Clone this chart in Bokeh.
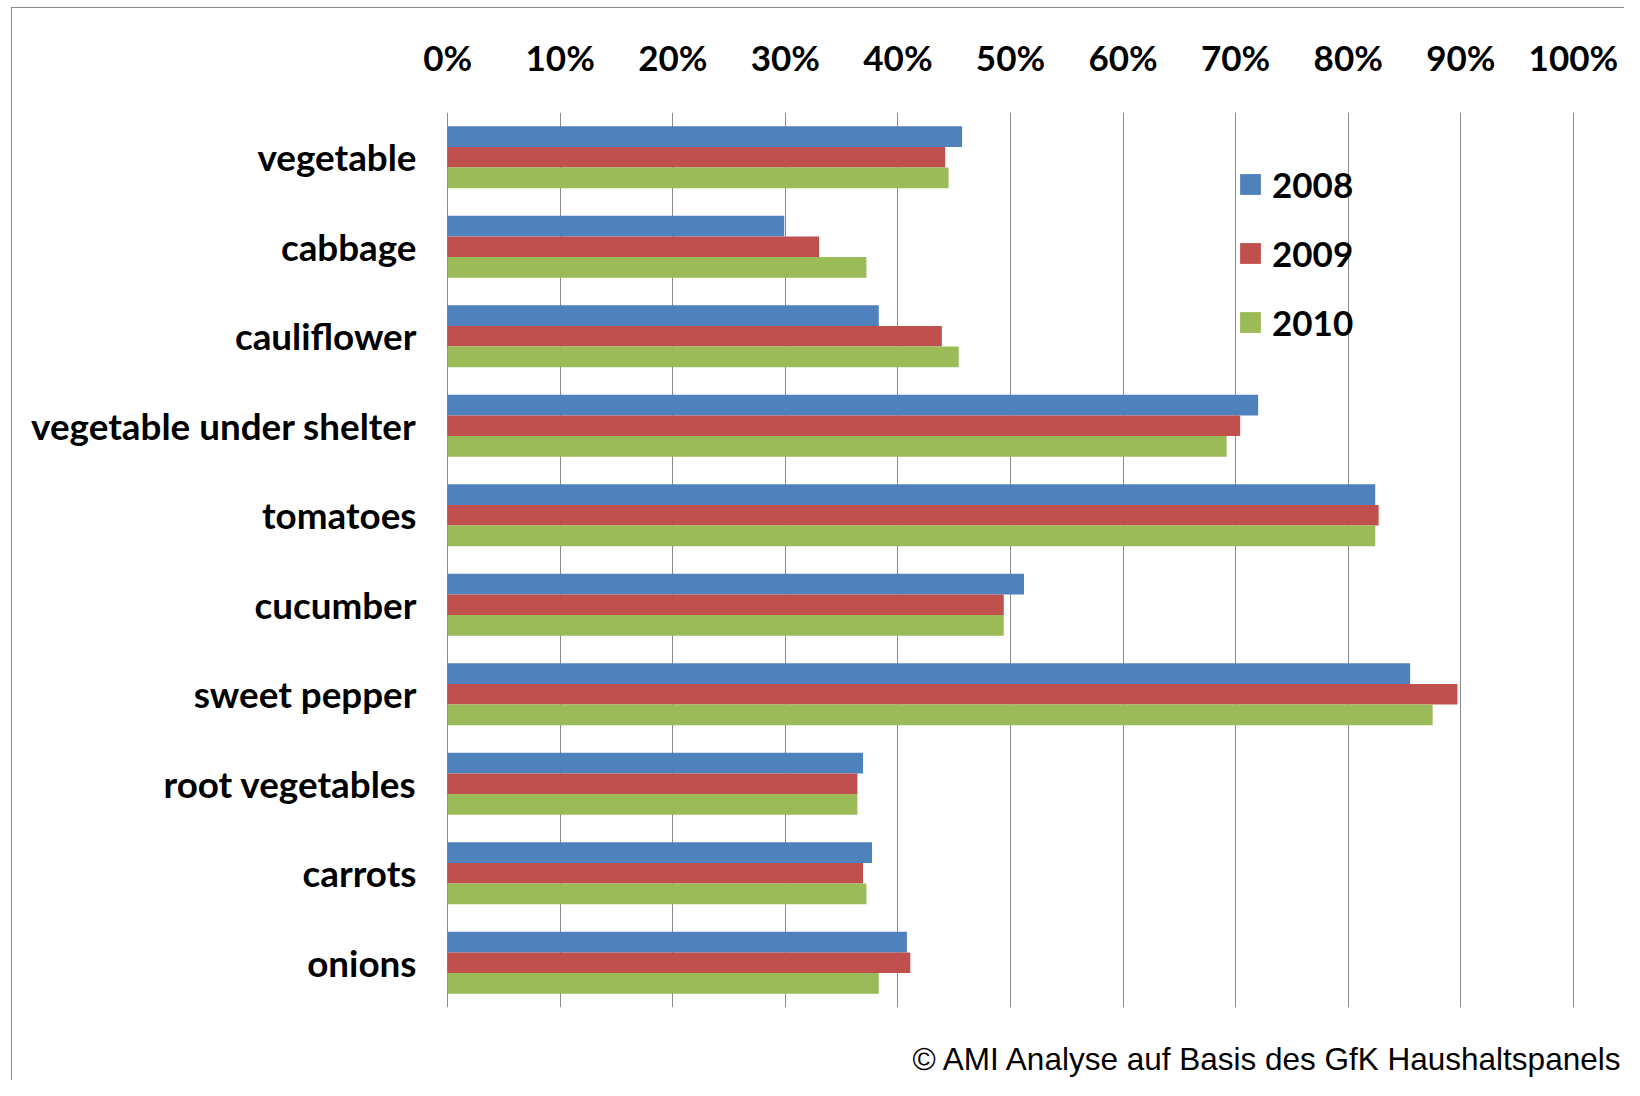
from bokeh.plotting import figure
from bokeh.models import (ColumnDataSource, FactorRange, Range1d, FixedTicker,
                          PrintfTickFormatter, Legend, LegendItem, LinearAxis)
from bokeh.transform import dodge
from bokeh.embed import file_html
from bokeh.resources import INLINE

categories = ["vegetable", "cabbage", "cauliflower", "vegetable under shelter",
              "tomatoes", "cucumber", "sweet pepper", "root vegetables",
              "carrots", "onions"]
years = ["2008", "2009", "2010"]
v2008 = [45.7, 29.9, 38.3, 72.0, 82.4, 51.2, 85.5, 36.9, 37.7, 40.8]
v2009 = [44.2, 33.0, 43.9, 70.4, 82.7, 49.4, 89.7, 36.4, 36.9, 41.1]
v2010 = [44.5, 37.2, 45.4, 69.2, 82.4, 49.4, 87.5, 36.4, 37.2, 38.3]
tick_values = [0, 10, 20, 30, 40, 50, 60, 70, 80, 90, 100]
colors = ["#4F81BD", "#C0504D", "#9BBB59"]
footer = "© AMI Analyse auf Basis des GfK Haushaltspanels"

src = ColumnDataSource(dict(cat=categories, v2008=v2008, v2009=v2009, v2010=v2010))

W, H = 1624, 1080
p = figure(width=W, height=H, output_backend="svg", toolbar_location=None,
           y_range=FactorRange(*reversed(categories)), x_range=Range1d(-0.1, 100.1),
           x_axis_location="above",
           min_border_left=446, min_border_right=50, min_border_top=112,
           min_border_bottom=73)
grey = "#8a8a8a"
p.styles = {"background": (f"linear-gradient({grey},{grey}) 11px 7px / 1px calc(100% - 7px) no-repeat, "
                           f"linear-gradient({grey},{grey}) 11px 7px / calc(100% - 11px) 1px no-repeat, "
                           "#ffffff")}
p.outline_line_color = None
p.background_fill_color = "white"
p.border_fill_color = None

bh = 0.23
offsets = [bh, 0.0, -bh]
renderers = []
for yr, off, col in zip(years, offsets, colors):
    r = p.hbar(y=dodge("cat", off, range=p.y_range), right="v" + yr, left=0,
               height=bh, source=src, fill_color=col, line_color=None)
    renderers.append(r)

font = "Lato"
xa = p.xaxis[0]
xa.ticker = FixedTicker(ticks=tick_values)
xa.formatter = PrintfTickFormatter(format="%d%%")
xa.axis_line_color = None
xa.major_tick_line_color = None
xa.minor_tick_line_color = None
xa.major_tick_out = 0
xa.major_tick_in = 0
xa.major_label_text_font = font
xa.major_label_text_font_style = "bold"
xa.major_label_text_font_size = "35px"
xa.major_label_text_color = "black"
xa.major_label_standoff = 35

ya = p.yaxis[0]
ya.axis_line_color = None
ya.major_tick_line_color = None
ya.minor_tick_line_color = None
ya.major_tick_out = 0
ya.major_tick_in = 0
ya.major_label_text_font = font
ya.major_label_text_font_style = "bold"
ya.major_label_text_font_size = "36.8px"
ya.major_label_text_color = "black"
ya.major_label_standoff = 30

p.xgrid.grid_line_color = grey
p.xgrid.grid_line_width = 1
p.xgrid.ticker = FixedTicker(ticks=tick_values)
p.ygrid.grid_line_color = None

legend = Legend(items=[LegendItem(label=yr, renderers=[r]) for yr, r in zip(years, renderers)],
                location=(791, 651))
legend.padding = 0
legend.margin = 0
legend.border_line_color = None
legend.background_fill_alpha = 0
legend.glyph_width = 26
legend.glyph_height = 26
legend.label_standoff = 9
legend.label_height = 69
legend.spacing = 0
legend.label_text_font = font
legend.label_text_font_style = "bold"
legend.label_text_font_size = "35px"
legend.label_text_color = "black"
p.add_layout(legend, "center")

# footer (source note) drawn as a single-label axis below the plot area
foot_axis = LinearAxis(ticker=FixedTicker(ticks=[73]), major_label_overrides={73: footer})
foot_axis.axis_line_color = None
foot_axis.major_tick_line_color = None
foot_axis.minor_tick_line_color = None
foot_axis.major_tick_out = 0
foot_axis.major_tick_in = 0
foot_axis.major_label_standoff = 33
foot_axis.major_label_text_font = "Liberation Sans"
foot_axis.major_label_text_font_size = "31.5px"
foot_axis.major_label_text_font_style = "normal"
foot_axis.major_label_text_color = "black"
p.add_layout(foot_axis, "below")

open("out.html", "w").write(file_html(p, INLINE))
